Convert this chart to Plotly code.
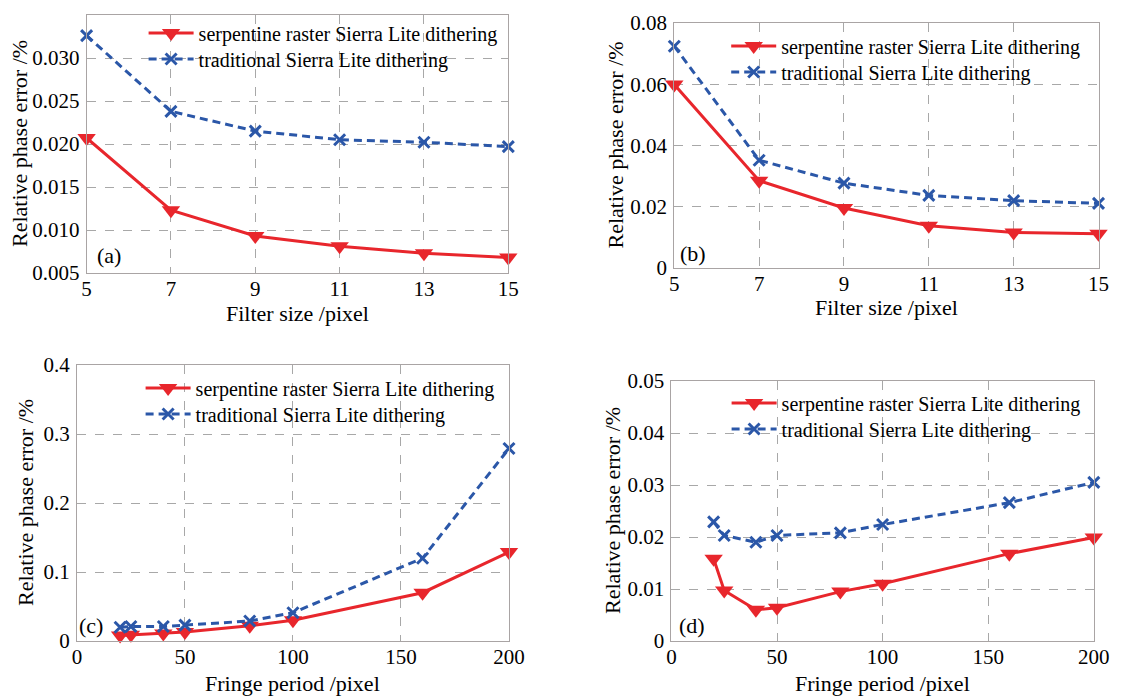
import plotly.graph_objects as go

# ---------------- data ----------------
filter_size = [5, 7, 9, 11, 13, 15]
a_serpentine = [0.0207, 0.0123, 0.0093, 0.0081, 0.0073, 0.0068]
a_traditional = [0.0326, 0.0238, 0.0215, 0.0205, 0.0202, 0.0197]
b_serpentine = [0.0599, 0.0285, 0.0196, 0.0138, 0.0116, 0.0112]
b_traditional = [0.0724, 0.0352, 0.0277, 0.0237, 0.0220, 0.0211]

fringe_period = [20, 25, 40, 50, 80, 100, 160, 200]
c_serpentine = [0.008, 0.009, 0.011, 0.013, 0.022, 0.030, 0.070, 0.129]
c_traditional = [0.020, 0.021, 0.021, 0.023, 0.029, 0.041, 0.120, 0.279]
d_serpentine = [0.0158, 0.0097, 0.0060, 0.0064, 0.0095, 0.0110, 0.0168, 0.0199]
d_traditional = [0.0229, 0.0203, 0.0190, 0.0203, 0.0208, 0.0224, 0.0266, 0.0305]

series_names = ["serpentine raster Sierra Lite dithering", "traditional Sierra Lite dithering"]
panel_labels = ["(a)", "(b)", "(c)", "(d)"]
x_titles = ["Filter size /pixel", "Filter size /pixel", "Fringe period /pixel", "Fringe period /pixel"]
y_title = "Relative phase error /%"

filter_ticks = [5, 7, 9, 11, 13, 15]
fringe_ticks = [0, 50, 100, 150, 200]
a_yticks = [0.005, 0.010, 0.015, 0.020, 0.025, 0.030, 0.035]
a_ytext = ["0.005", "0.010", "0.015", "0.020", "0.025", "0.030", "0.035"]
b_yticks = [0, 0.02, 0.04, 0.06, 0.08]
b_ytext = ["0", "0.02", "0.04", "0.06", "0.08"]
c_yticks = [0, 0.1, 0.2, 0.3, 0.4]
c_ytext = ["0", "0.1", "0.2", "0.3", "0.4"]
d_yticks = [0, 0.01, 0.02, 0.03, 0.04, 0.05]
d_ytext = ["0", "0.01", "0.02", "0.03", "0.04", "0.05"]

# ---------------- style ----------------
FONT = "Liberation Serif"
RED = "#E8262C"
BLUE = "#2B57A8"
GRID = "#A8A8A8"
BOX = "#A9A4A4"
OFF = 8                      # default page body margin
W, H = 1132 - 2 * OFF, 700 - OFF
ITEMW = 45
TEXT_OFFSET = ITEMW + 11.4


def px(x):
    return (x - OFF) / W


def py(y):
    return 1 - (y - OFF) / H


panels = [
    dict(x=filter_size, s=a_serpentine, t=a_traditional, xr=[5, 15], yr=[0.005, 0.035],
         xt=filter_ticks, yt=a_yticks, ytt=a_ytext,
         xd=[86.6, 508.3], yd=[15, 273], leg=(200, 33, 59), lab=(8, 3),
         yt_x=19, xt_y=313),
    dict(x=filter_size, s=b_serpentine, t=b_traditional, xr=[5, 15], yr=[0, 0.08],
         xt=filter_ticks, yt=b_yticks, ytt=b_ytext,
         xd=[674.3, 1098.5], yd=[23, 268], leg=(782.6, 46, 72), lab=(4, 0),
         yt_x=615, xt_y=308),
    dict(x=fringe_period, s=c_serpentine, t=c_traditional, xr=[0, 200], yr=[0, 0.4],
         xt=fringe_ticks, yt=c_yticks, ytt=c_ytext,
         xd=[76.9, 509], yd=[365, 641], leg=(197, 388, 414), lab=(0, 1),
         yt_x=25, xt_y=683),
    dict(x=fringe_period, s=d_serpentine, t=d_traditional, xr=[0, 200], yr=[0, 0.05],
         xt=fringe_ticks, yt=d_yticks, ytt=d_ytext,
         xd=[671.4, 1093.8], yd=[381, 641], leg=(783, 403, 429), lab=(6, 1),
         yt_x=612, xt_y=683),
]

fig = go.Figure()
layout = dict(
    width=W, height=H, margin=dict(l=0, r=0, t=0, b=0, pad=0, autoexpand=False),
    paper_bgcolor="white", plot_bgcolor="white", showlegend=True,
    font=dict(family=FONT, size=21, color="black"),
    annotations=[],
)

for i, p in enumerate(panels):
    n = i + 1
    xs = "" if n == 1 else str(n)
    leg_s = "legend" if i == 0 else f"legend{2 * i + 1}"
    leg_t = f"legend{2 * i + 2}"
    fig.add_trace(go.Scatter(
        x=p["x"], y=p["s"], name=series_names[0], mode="lines+markers",
        line=dict(color=RED, width=3),
        marker=dict(symbol="triangle-down", size=16, color=RED),
        xaxis="x" + xs, yaxis="y" + xs, legend=leg_s, cliponaxis=False,
        showlegend=True,
    ))
    fig.add_trace(go.Scatter(
        x=p["x"], y=p["t"], name=series_names[1], mode="lines+markers",
        line=dict(color=BLUE, width=3, dash="8px,5px"),
        marker=dict(symbol="x-thin", size=11, color=BLUE, line=dict(color=BLUE, width=3)),
        xaxis="x" + xs, yaxis="y" + xs, legend=leg_t, cliponaxis=False,
        showlegend=True,
    ))
    axcommon = dict(showline=True, mirror=True, linecolor=BOX, linewidth=1,
                    showgrid=True, gridcolor=GRID, griddash="dash", gridwidth=1,
                    zeroline=False, ticks="", automargin=False,
                    tickfont=dict(family=FONT, size=21), fixedrange=True)
    layout["xaxis" + xs] = dict(
        axcommon, domain=[px(p["xd"][0]), px(p["xd"][1])], range=p["xr"],
        tickvals=p["xt"], ticktext=[str(v) for v in p["xt"]],
        anchor="y" + xs, ticklabelstandoff=-3,
    )
    layout["yaxis" + xs] = dict(
        axcommon, domain=[py(p["yd"][1]), py(p["yd"][0])], range=p["yr"],
        tickvals=p["yt"], ticktext=p["ytt"],
        anchor="x" + xs, ticklabelstandoff=2,
    )
    # axis titles placed precisely as text
    layout["annotations"].append(dict(
        text=y_title, xref="paper", yref="paper",
        x=px(p["yt_x"]), y=py((p["yd"][0] + p["yd"][1]) / 2),
        xanchor="center", yanchor="middle", textangle=-90, showarrow=False,
        font=dict(family=FONT, size=22),
    ))
    layout["annotations"].append(dict(
        text=x_titles[i], xref=f"x{xs} domain", yref="paper",
        x=0.5, y=py(p["xt_y"]),
        xanchor="center", yanchor="middle", showarrow=False,
        font=dict(family=FONT, size=22),
    ))
    for lname, ycen in ((leg_s, p["leg"][1]), (leg_t, p["leg"][2])):
        layout[lname] = dict(
            x=px(p["leg"][0] - TEXT_OFFSET), y=py(ycen), xanchor="left", yanchor="middle",
            bgcolor="rgba(0,0,0,0)", borderwidth=0, visible=True,
            font=dict(family=FONT, size=20), itemwidth=ITEMW,
        )
    layout["annotations"].append(dict(
        text=panel_labels[i], xref=f"x{xs} domain", yref=f"y{xs} domain",
        x=0, y=0, xanchor="left", yanchor="bottom", showarrow=False,
        xshift=p["lab"][0], yshift=p["lab"][1],
        font=dict(family=FONT, size=22),
    ))

fig.update_layout(**layout)
fig.write_html("out.html")
